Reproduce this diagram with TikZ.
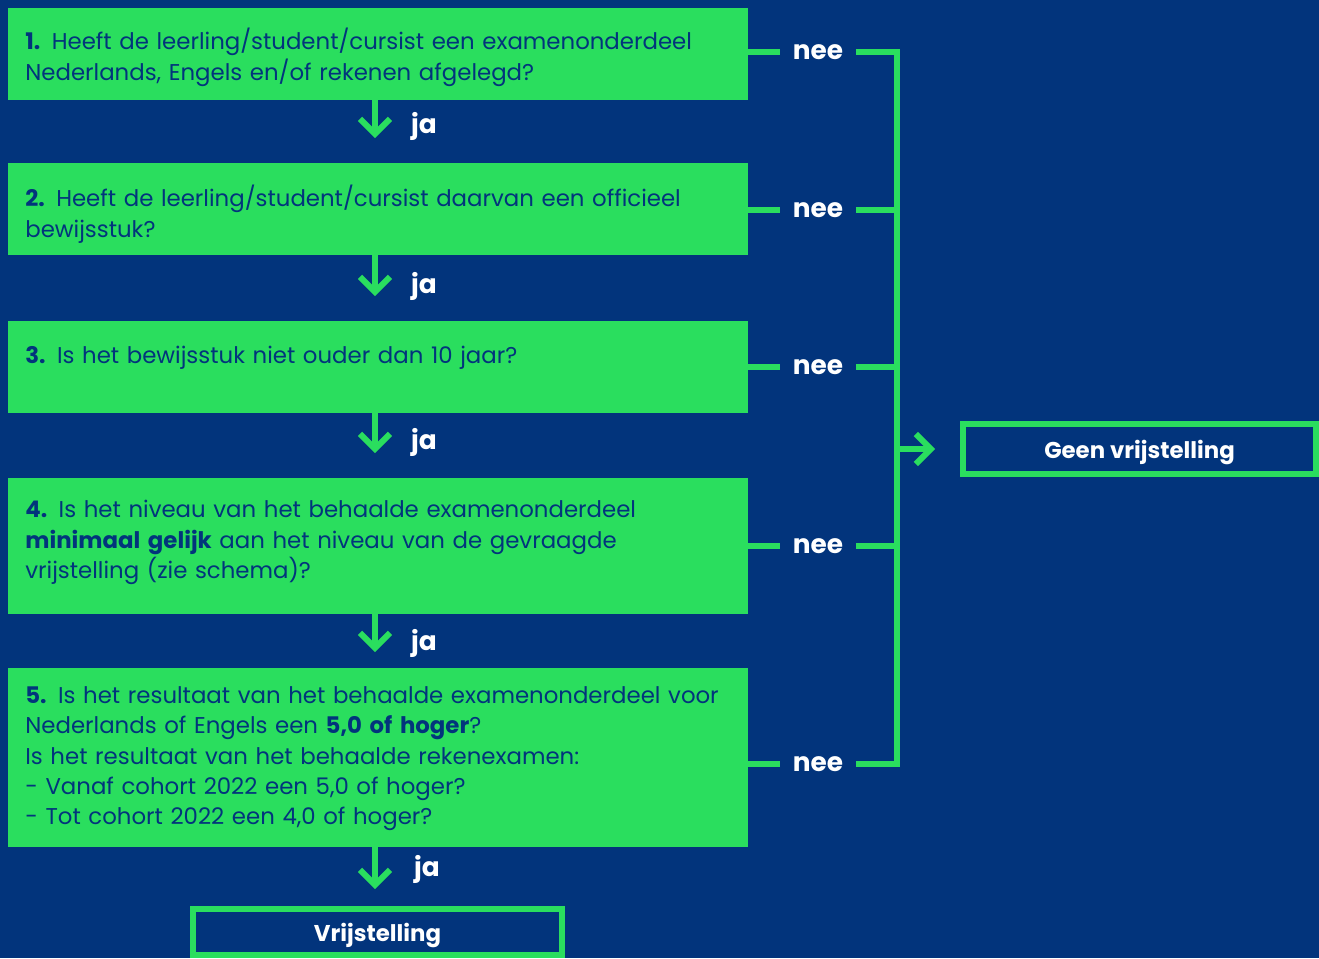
\documentclass[tikz,border=0pt]{standalone}
\usepackage{fontspec}
\setmainfont{Poppins}
\usetikzlibrary{positioning,arrows.meta}
\definecolor{schemablue}{RGB}{2,52,124}
\definecolor{schemagreen}{RGB}{42,222,94}

\begin{document}
\begin{tikzpicture}[x=0.02cm, y=-0.02cm,
    question/.style={rectangle, fill=schemagreen, minimum width=14.8cm, inner sep=0pt, outer sep=0pt},
    qtext/.style={anchor=north west, inner sep=0pt, text width=14.6cm, align=left, text=schemablue, font=\fontsize{13}{17.3}\selectfont},
    answer/.style={inner xsep=0.25cm, inner ysep=0pt, text=white, font=\fontsize{15}{18}\selectfont\bfseries},
    outcome/.style={rectangle, draw=schemagreen, line width=0.12cm, outer sep=0pt, text depth=0pt, text=white, font=\fontsize{13}{16}\selectfont\bfseries},
    link/.style={draw=schemagreen, line width=0.12cm},
    flow/.style={link, -{Straight Barb[length=0.3cm, width=0.6cm]}}
]
    \useasboundingbox[fill=schemablue] (0,0) rectangle (1319,958);

    % questions
    \node[question, minimum height=1.84cm] (q1) at (378,54) {};
    \node[question, minimum height=1.84cm] (q2) at (378,209) {};
    \node[question, minimum height=1.84cm] (q3) at (378,367) {};
    \node[question, minimum height=2.72cm] (q4) at (378,546) {};
    \node[question, minimum height=3.58cm] (q5) at (378,757.5) {};

    \node[qtext] (t1) at (25,28) {\textbf{1.} Heeft de leerling/student/cursist een examenonderdeel\\Nederlands, Engels en/of rekenen afgelegd?};
    \node[qtext] (t2) at (25,185) {\textbf{2.} Heeft de leerling/student/cursist daarvan een officieel\\bewijsstuk?};
    \node[qtext] (t3) at (25,346) {\textbf{3.} Is het bewijsstuk niet ouder dan 10 jaar?};
    \node[qtext] (t4) at (25,500) {\textbf{4.} Is het niveau van het behaalde examenonderdeel\\\textbf{minimaal gelijk} aan het niveau van de gevraagde\\vrijstelling (zie schema)?};
    \node[qtext] (t5) at (25,686) {\textbf{5.} Is het resultaat van het behaalde examenonderdeel voor\\Nederlands of Engels een \textbf{5,0 of hoger}?\\Is het resultaat van het behaalde rekenexamen:\\- Vanaf cohort 2022 een 5,0 of hoger?\\- Tot cohort 2022 een 4,0 of hoger?};

    % outcomes
    \node[outcome, minimum width=7.06cm, minimum height=1.0cm] (geen) at (1139.5,449) {Geen vrijstelling};
    \node[outcome, minimum width=7.38cm, minimum height=0.92cm] (vrij) at (377.5,932) {Vrijstelling\hspace{0.24cm}};

    % ja
    \node[answer] (j1) at (424,126) {ja};
    \node[answer] (j2) at (424,286) {ja};
    \node[answer] (j3) at (424,442) {ja};
    \node[answer] (j4) at (424,643) {ja};
    \node[answer] (j5) at (427,869) {ja};

    \draw[flow, shorten >=0.5cm] ([xshift=-0.06cm]q1.south) -- ([xshift=-0.06cm]q2.north);
    \draw[flow, shorten >=0.5cm] ([xshift=-0.06cm]q2.south) -- ([xshift=-0.06cm]q3.north);
    \draw[flow, shorten >=0.5cm] ([xshift=-0.06cm]q3.south) -- ([xshift=-0.06cm]q4.north);
    \draw[flow, shorten >=0.32cm] ([xshift=-0.06cm]q4.south) -- ([xshift=-0.06cm]q5.north);
    \draw[flow, shorten >=0.4cm] ([xshift=-0.06cm]q5.south) -- ([xshift=-0.06cm]q5.south |- vrij.north);

    % nee
    \node[answer] (n1) at (818,52) {nee};
    \node[answer] (n2) at (818,210) {nee};
    \node[answer] (n3) at (818,367) {nee};
    \node[answer] (n4) at (818,546) {nee};
    \node[answer] (n5) at (818,764) {nee};

    \coordinate (c1) at (897,52);
    \coordinate (c5) at (897,764);
    \coordinate (cm) at (897,449);

    \draw[link] (q1.east |- n1) -- (n1.west);
    \draw[link] (q2.east |- n2) -- (n2.west);
    \draw[link] (q3.east |- n3) -- (n3.west);
    \draw[link] (q4.east |- n4) -- (n4.west);
    \draw[link] (q5.east |- n5) -- (n5.west);

    \draw[link] (n1.east) -- (c1) -- (c5) -- (n5.east);
    \draw[link] (n2.east) -- (n2 -| c1);
    \draw[link] (n3.east) -- (n3 -| c1);
    \draw[link] (n4.east) -- (n4 -| c1);
    \draw[flow, shorten >=0.56cm] (cm) -- (geen.west);
\end{tikzpicture}
\end{document}
